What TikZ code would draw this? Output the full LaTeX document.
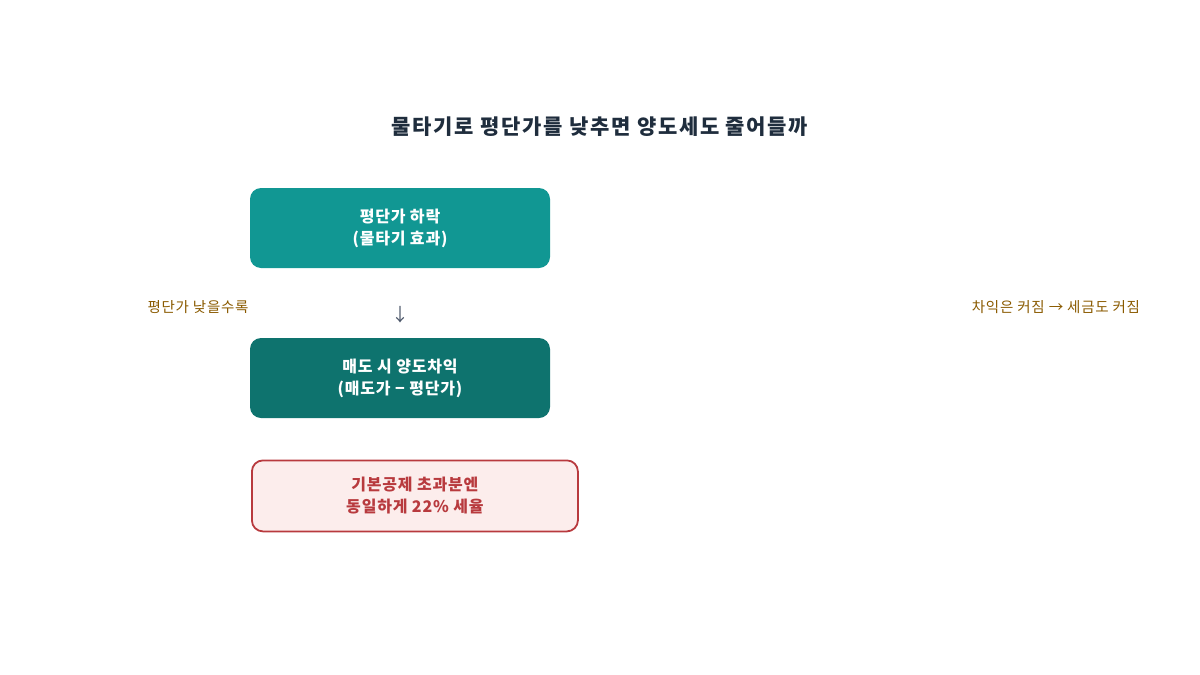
\documentclass[tikz,border=0pt]{standalone}
\usepackage{fontspec}
\setmainfont{Noto Sans CJK KR}
\usetikzlibrary{positioning}
\definecolor{tealA}{HTML}{119793}
\definecolor{tealB}{HTML}{0E736E}
\definecolor{titlec}{HTML}{1F2D3D}
\definecolor{notec}{HTML}{8A5A00}
\definecolor{arrowc}{HTML}{4A5568}
\definecolor{redc}{HTML}{B83A3E}
\definecolor{redfill}{HTML}{FCEDEC}

\begin{document}
\begin{tikzpicture}[x=1pt,y=-1pt,node distance=41pt,
  box/.style={rounded corners=11pt,minimum width=300pt,minimum height=80pt,
    text=white,align=center,inner sep=0pt,
    font=\fontsize{16}{22}\selectfont\bfseries\addfontfeatures{LetterSpace=5}},
  warn/.style={box,draw=redc,line width=1.8pt,fill=redfill,text=redc,
    minimum width=326pt,minimum height=71pt},
  note/.style={text=notec,font=\fontsize{14.5}{16}\selectfont\addfontfeatures{LetterSpace=5}}]
      \useasboundingbox (0,0) rectangle (1200,675);
      \node[text=titlec,font=\fontsize{21}{24}\selectfont\bfseries\addfontfeatures{LetterSpace=8}] (title) at (600,127) {물타기로 평단가를 낮추면 양도세도 줄어들까};

      \node[box,fill=tealA] (avg) at (400,228) {평단가 하락\\(물타기 효과)};
      \node[box,fill=tealB] (gain) at (400,378) {매도 시 양도차익\\(매도가 − 평단가)};
      \node[text=arrowc,font=\fontsize{18}{20}\selectfont] (down) at (400,315) {↓};
      \node[warn,anchor=north west] (tax) at (251,459.5) {기본공제 초과분엔\\동일하게 22\% 세율};

      \node[note] (low) at (198,307) {평단가 낮을수록};
      \node[note] (big) at (1056,307) {차익은 커짐 → 세금도 커짐};
\end{tikzpicture}
\end{document}
